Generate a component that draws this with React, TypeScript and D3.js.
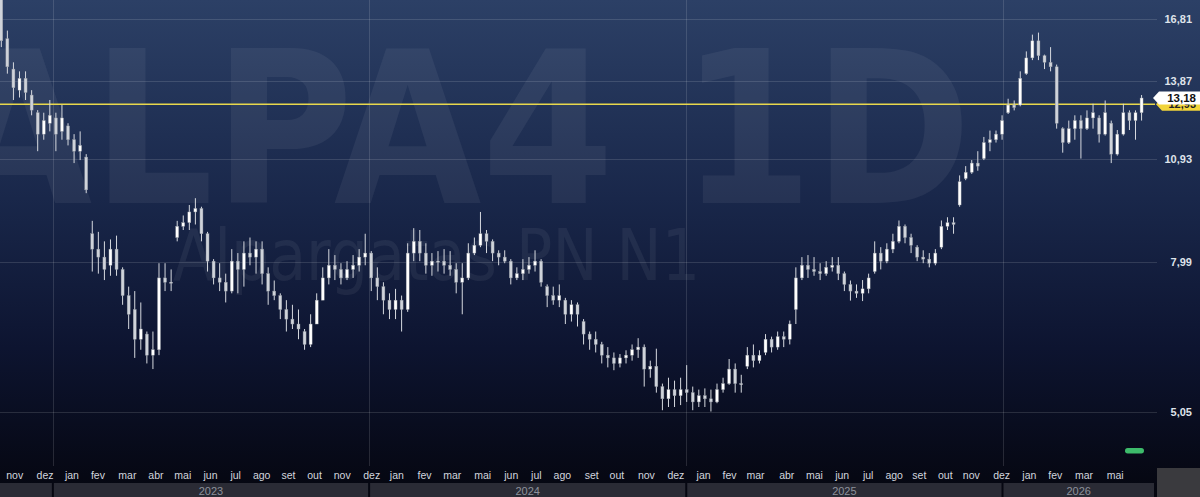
import React from "react";
import * as d3 from "d3";

const W = 1200;
const H = 497;

// weekly candles [open, high, low, close], one per week starting on Monday
const weekStart = "2022-10-31";
const ohlc2022 = [
  [17.9, 18.4, 15.4, 15.7], [15.8, 16.2, 14.2, 14.5], [14.4, 14.7, 13.1, 13.6],
  [13.5, 14.3, 13.2, 14.0], [14.0, 14.3, 13.1, 13.4], [13.3, 13.5, 12.5, 12.7],
  [12.6, 12.7, 11.2, 11.8], [11.8, 12.6, 11.6, 12.3], [12.2, 13.1, 11.9, 12.5],
];
const ohlc2023 = [
  [12.4, 12.6, 11.2, 11.8], [11.9, 12.9, 11.6, 12.4], [12.1, 12.2, 11.4, 11.6],
  [11.6, 11.8, 10.8, 11.2], [11.2, 11.9, 10.9, 11.4], [11.0, 11.1, 9.85, 9.95],
  [8.7, 9.05, 7.75, 8.3], [8.3, 8.75, 7.7, 8.1], [8.1, 8.5, 7.55, 7.8],
  [7.9, 8.55, 7.65, 8.3], [8.3, 8.65, 7.65, 7.8], [7.8, 7.85, 7.0, 7.2],
  [7.2, 7.4, 6.5, 6.8], [6.9, 7.3, 5.95, 6.3], [6.3, 7.05, 6.1, 6.5],
  [6.4, 6.45, 5.85, 6.0], [6.0, 6.45, 5.75, 6.1], [6.1, 7.95, 6.0, 7.6],
  [7.6, 7.95, 7.3, 7.5], [7.5, 7.8, 7.3, 7.5], [8.6, 9.05, 8.5, 8.9],
  [8.9, 9.2, 8.8, 9.0], [9.0, 9.5, 8.8, 9.3], [9.3, 9.7, 8.95, 9.4],
  [9.4, 9.45, 8.5, 8.7], [8.7, 8.75, 7.75, 8.0], [8.0, 8.05, 7.45, 7.6],
  [7.6, 7.95, 7.3, 7.5], [7.5, 7.7, 7.05, 7.3], [7.3, 8.3, 7.25, 8.0],
  [8.0, 8.2, 7.25, 7.8], [7.8, 8.5, 7.4, 8.2], [8.2, 8.6, 7.9, 8.1],
  [8.1, 8.5, 7.7, 8.3], [8.3, 8.5, 7.45, 7.7], [7.7, 7.85, 7.0, 7.3],
  [7.3, 7.54, 7.1, 7.2], [7.2, 7.25, 6.7, 6.9], [6.9, 7.1, 6.45, 6.7],
  [6.7, 7.0, 6.5, 6.6], [6.6, 6.9, 6.3, 6.5], [6.45, 6.5, 6.1, 6.2],
  [6.2, 6.8, 6.15, 6.6], [6.6, 7.25, 6.6, 7.1], [7.1, 7.85, 7.1, 7.6],
  [7.6, 8.3, 7.45, 7.9], [7.9, 8.15, 7.55, 7.8], [7.8, 7.95, 7.45, 7.6],
  [7.6, 8.0, 7.55, 7.8], [7.8, 8.15, 7.6, 7.9], [7.9, 8.3, 7.75, 8.1],
  [8.1, 8.7, 7.9, 8.2],
];
const ohlc2024 = [
  [8.2, 8.25, 7.3, 7.6], [7.6, 7.85, 7.1, 7.4], [7.4, 7.5, 6.8, 7.1],
  [7.1, 7.25, 6.7, 6.9], [6.9, 7.35, 6.7, 7.1], [7.1, 7.2, 6.45, 6.9],
  [6.9, 8.45, 6.85, 8.2], [8.2, 8.85, 8.0, 8.5], [8.5, 8.8, 8.0, 8.2],
  [8.2, 8.45, 7.7, 7.9], [7.9, 8.2, 7.65, 8.0], [8.0, 8.25, 7.75, 8.0],
  [8.0, 8.3, 7.7, 7.9], [7.9, 8.25, 7.65, 7.8], [7.8, 7.95, 7.25, 7.5],
  [7.5, 7.95, 6.8, 7.6], [7.6, 8.45, 7.55, 8.2], [8.2, 8.6, 8.15, 8.4],
  [8.4, 9.3, 8.35, 8.7], [8.7, 8.8, 8.2, 8.5], [8.5, 8.55, 8.0, 8.2],
  [8.2, 8.27, 7.9, 8.1], [8.1, 8.27, 7.95, 8.0], [8.0, 8.05, 7.45, 7.6],
  [7.6, 7.85, 7.55, 7.7], [7.7, 8.05, 7.55, 7.8], [7.8, 8.1, 7.7, 7.9],
  [7.9, 8.27, 7.75, 8.0], [8.0, 8.05, 7.4, 7.5], [7.4, 7.45, 6.95, 7.2],
  [7.2, 7.4, 7.0, 7.1], [7.1, 7.45, 6.95, 7.2], [7.1, 7.15, 6.6, 6.8],
  [6.8, 7.1, 6.65, 7.0], [7.0, 7.05, 6.55, 6.8], [6.65, 6.7, 6.2, 6.4],
  [6.4, 6.45, 6.1, 6.3], [6.3, 6.45, 6.05, 6.2], [6.2, 6.25, 5.85, 6.0],
  [6.0, 6.15, 5.78, 5.95], [5.95, 6.05, 5.73, 5.85], [5.85, 6.02, 5.78, 5.95],
  [5.95, 6.09, 5.85, 6.0], [6.0, 6.2, 5.9, 6.1], [6.1, 6.32, 5.95, 6.15],
  [6.15, 6.2, 5.45, 5.75], [5.75, 5.9, 5.6, 5.8], [5.8, 6.12, 5.35, 5.45],
  [5.45, 5.5, 5.07, 5.25], [5.25, 5.6, 5.12, 5.4], [5.4, 5.55, 5.12, 5.3],
  [5.3, 5.6, 5.15, 5.4], [5.4, 5.82, 5.2, 5.35],
];
const ohlc2025 = [
  [5.35, 5.45, 5.07, 5.2], [5.2, 5.4, 5.12, 5.3], [5.3, 5.42, 5.12, 5.25],
  [5.25, 5.4, 5.05, 5.2], [5.2, 5.5, 5.18, 5.4], [5.4, 5.6, 5.35, 5.5],
  [5.5, 5.93, 5.48, 5.75], [5.75, 5.85, 5.35, 5.5], [5.5, 5.65, 5.35, 5.5],
  [5.8, 6.15, 5.75, 6.0], [6.0, 6.2, 5.78, 5.9], [5.9, 6.09, 5.85, 6.0],
  [6.05, 6.4, 6.0, 6.3], [6.3, 6.35, 6.05, 6.15], [6.15, 6.45, 6.1, 6.35],
  [6.35, 6.45, 6.15, 6.3], [6.3, 6.67, 6.2, 6.6], [6.9, 7.85, 6.6, 7.6],
  [7.6, 8.1, 7.55, 7.9], [7.9, 8.15, 7.6, 7.8], [7.8, 8.1, 7.65, 7.75],
  [7.75, 7.95, 7.55, 7.7], [7.7, 8.0, 7.65, 7.85], [7.85, 8.1, 7.75, 7.9],
  [7.9, 8.1, 7.55, 7.7], [7.7, 7.75, 7.3, 7.45], [7.45, 7.54, 7.09, 7.3],
  [7.3, 7.45, 7.15, 7.25], [7.25, 7.55, 7.08, 7.35], [7.35, 7.7, 7.25, 7.6],
  [7.75, 8.5, 7.7, 8.2], [8.2, 8.35, 7.8, 8.0], [8.0, 8.45, 7.95, 8.3],
  [8.3, 8.7, 8.2, 8.5], [8.5, 9.06, 8.45, 8.9], [8.9, 8.95, 8.45, 8.6],
  [8.6, 8.7, 8.2, 8.4], [8.35, 8.4, 8.0, 8.1], [8.1, 8.27, 7.95, 8.05],
  [8.05, 8.2, 7.85, 7.95], [7.95, 8.3, 7.9, 8.2], [8.35, 9.06, 8.3, 8.9],
  [8.9, 9.15, 8.8, 9.0], [9.0, 9.15, 8.7, 8.95], [9.5, 10.4, 9.45, 10.2],
  [10.3, 10.7, 10.25, 10.5], [10.5, 10.9, 10.45, 10.8], [10.8, 11.2, 10.55, 10.7],
  [10.95, 11.7, 10.9, 11.5], [11.5, 11.93, 11.2, 11.6], [11.6, 11.93, 11.5, 11.8],
  [11.8, 12.5, 11.6, 12.3],
];
const ohlc2026 = [
  [12.6, 13.15, 12.55, 12.9], [12.9, 13.08, 12.69, 12.8], [12.9, 14.3, 12.85, 14.0],
  [14.2, 15.2, 14.15, 14.9], [14.9, 16.0, 14.8, 15.7], [15.7, 16.1, 14.8, 15.0],
  [15.0, 15.05, 14.4, 14.7], [14.7, 15.4, 14.3, 14.5], [14.5, 14.6, 12.0, 12.2],
  [12.0, 12.05, 11.15, 11.5], [11.5, 12.3, 11.45, 12.0], [12.0, 12.5, 11.6, 12.3],
  [12.3, 12.5, 10.95, 12.0], [12.0, 12.69, 11.95, 12.4], [12.4, 12.95, 12.0, 12.6],
  [12.4, 12.5, 11.5, 11.8], [11.8, 13.08, 11.75, 12.6], [12.2, 12.3, 10.8, 11.1],
  [11.1, 11.95, 11.05, 11.8], [11.8, 12.95, 11.75, 12.6], [12.6, 12.69, 11.95, 12.3],
  [12.3, 12.69, 11.6, 12.6], [12.6, 13.3, 12.3, 13.18],
];

const priceTicks = [16.81, 13.87, 10.93, 7.99, 5.05];
const monthLabels = [
  "nov", "dez", "jan", "fev", "mar", "abr", "mai", "jun", "jul", "ago", "set", "out", "nov", "dez",
  "jan", "fev", "mar", "mai", "jun", "jul", "ago", "set", "out", "nov", "dez",
  "jan", "fev", "mar", "abr", "mai", "jun", "jul", "ago", "set", "out", "nov", "dez",
  "jan", "fev", "mar", "mai",
];
const monthLabelDates = [
  "2022-11-18", "2022-12-23", "2023-01-23", "2023-02-22", "2023-03-28", "2023-04-30",
  "2023-05-31", "2023-07-02", "2023-07-31", "2023-08-30", "2023-09-30", "2023-10-30",
  "2023-12-01", "2024-01-04",
  "2024-02-02", "2024-03-05", "2024-04-06", "2024-05-11", "2024-06-13", "2024-07-12",
  "2024-08-11", "2024-09-14", "2024-10-13", "2024-11-16", "2024-12-20",
  "2025-01-21", "2025-02-20", "2025-03-22", "2025-04-27", "2025-05-29", "2025-06-30",
  "2025-07-30", "2025-08-29", "2025-09-27", "2025-10-27", "2025-11-26", "2025-12-31",
  "2026-02-01", "2026-03-03", "2026-04-05", "2026-05-11",
];
const yearLabels = ["2023", "2024", "2025", "2026"];
const lastClose = 13.18;
const referenceLevel = 12.93;
const ticker = "ALPA4 1D";
const companyName = "Alpargatas PN N1";
const domainStart = "2022-11-01";
const domainEnd = "2026-06-26";

const fmt = (v: number) => v.toFixed(2).replace(".", ",");
const toDate = (s: string) => new Date(s + "T00:00:00Z");

export default function App() {
  const plotRight = 1155;
  const plotBottom = 466;

  const x = d3.scaleUtc().domain([toDate(domainStart), toDate(domainEnd)]).range([0, plotRight]);
  const y = d3.scaleLog().domain([5.05, 16.81]).range([411.5, 18.5]);

  const all = [...ohlc2022, ...ohlc2023, ...ohlc2024, ...ohlc2025, ...ohlc2026];
  const start = toDate(weekStart).getTime();
  const candles = all.map((d, i) => ({
    date: new Date(start + (7 * i + 2.5) * 86400000),
    o: d[0], h: d[1], l: d[2], c: d[3],
  }));

  const yearStarts = yearLabels.map((yr) => toDate(`${yr}-01-01`));
  const bandEdges = [0, ...yearStarts.map((d) => x(d)), plotRight];

  const yLast = y(lastClose);
  const yRef = y(referenceLevel);
  const bodyW = 3;

  return (
    <div style={{ position: "absolute", left: 0, top: 0, width: W, height: H }}>
      <svg width={W} height={H} style={{ display: "block" }}>
        <defs>
          <linearGradient id="bg" x1="0" y1="0" x2="0" y2="1">
            <stop offset="0" stopColor="#2c4066" />
            <stop offset="0.4" stopColor="#19274a" />
            <stop offset="0.7" stopColor="#0d1430" />
            <stop offset="1" stopColor="#05060f" />
          </linearGradient>
          <clipPath id="plot">
            <rect x={0} y={0} width={plotRight} height={plotBottom} />
          </clipPath>
        </defs>
        <rect x={0} y={0} width={W} height={H} fill="url(#bg)" />

        {/* watermark */}
        <g fill="#ffffff" fillOpacity={0.06} clipPath="url(#plot)">
          <text
            x={458}
            y={203}
            textAnchor="middle"
            fontFamily="'DejaVu Sans Condensed', 'DejaVu Sans'"
            fontStretch="condensed"
            fontWeight="bold"
            fontSize={212}
          >
            {ticker}
          </text>
          <text
            x={173}
            y={280}
            textLength={527}
            lengthAdjust="spacingAndGlyphs"
            fontFamily="'DejaVu Sans'"
            fontSize={72}
          >
            {companyName}
          </text>
        </g>

        {/* grid */}
        <g stroke="#ffffff" strokeOpacity={0.13} strokeWidth={1}>
          {priceTicks.map((p) => (
            <line key={p} x1={0} x2={plotRight + 2} y1={Math.round(y(p)) + 0.5} y2={Math.round(y(p)) + 0.5} />
          ))}
          {yearStarts.map((d, i) => (
            <line key={i} x1={Math.round(x(d)) + 0.5} x2={Math.round(x(d)) + 0.5} y1={0} y2={plotBottom} />
          ))}
        </g>

        {/* reference level */}
        <line x1={0} x2={plotRight} y1={yRef} y2={yRef} stroke="#e8d84c" strokeWidth={1.6} />

        {/* candles */}
        <g clipPath="url(#plot)">
          {candles.map((d, i) => {
            const cx = x(d.date);
            const top = y(Math.max(d.o, d.c));
            const bot = y(Math.min(d.o, d.c));
            const up = d.c >= d.o;
            return (
              <g key={i}>
                <line x1={cx} x2={cx} y1={y(d.h)} y2={y(d.l)} stroke="#d6d9df" strokeWidth={1} />
                <rect
                  x={cx - bodyW / 2}
                  y={top}
                  width={bodyW}
                  height={Math.max(1, bot - top)}
                  fill={up ? "#ffffff" : "#cfd3da"}
                  stroke="#8c929c"
                  strokeWidth={0.4}
                />
              </g>
            );
          })}
        </g>

        {/* price axis labels */}
        <g fontFamily="'Liberation Sans', Arial, sans-serif" fontSize={11} fontWeight="bold" fill="#dfe3ea" textAnchor="end">
          {priceTicks.map((p) => (
            <text key={p} x={1192} y={y(p) + 4}>
              {fmt(p)}
            </text>
          ))}
        </g>

        {/* reference level label (yellow) */}
        <path
          d={`M${plotRight + 1},${yRef} L${plotRight + 7},${yRef - 6.5} L${W},${yRef - 6.5} L${W},${yRef + 6.5} L${plotRight + 7},${yRef + 6.5} Z`}
          fill="#f2d43a"
        />
        <text x={1196} y={yRef + 4} textAnchor="end" fontFamily="'Liberation Sans', Arial, sans-serif" fontSize={11} fontWeight="bold" fill="#222">
          {fmt(referenceLevel)}
        </text>
        {/* last price label (white) */}
        <path
          d={`M${plotRight - 2},${yLast} L${plotRight + 4},${yLast - 6.5} L${W},${yLast - 6.5} L${W},${yLast + 6.5} L${plotRight + 4},${yLast + 6.5} Z`}
          fill="#ffffff"
        />
        <text x={1196} y={yLast + 4} textAnchor="end" fontFamily="'Liberation Sans', Arial, sans-serif" fontSize={11.5} fontWeight="bold" fill="#111">
          {fmt(lastClose)}
        </text>

        {/* green marker */}
        <rect x={1125} y={448} width={19} height={5.5} rx={2.7} fill="#3dbb6b" />

        {/* month labels */}
        <g fontFamily="'Liberation Sans', Arial, sans-serif" fontSize={10.5} fill="#d2d6df" textAnchor="middle">
          {monthLabels.map((m, i) => (
            <text key={i} x={x(toDate(monthLabelDates[i]))} y={479}>
              {m}
            </text>
          ))}
        </g>

        {/* year band */}
        <g>
          {bandEdges.slice(0, -1).map((x0, i) => {
            const x1 = bandEdges[i + 1];
            return (
              <rect key={i} x={x0 + (i === 0 ? 0 : 1)} y={483} width={Math.max(0, x1 - x0 - (i === 0 ? 1 : 2))} height={14} fill="#2a2b35" />
            );
          })}
          {yearLabels.map((yr, i) => (
            <text
              key={yr}
              x={(bandEdges[i + 1] + bandEdges[i + 2]) / 2}
              y={494.5}
              textAnchor="middle"
              fontFamily="'Liberation Sans', Arial, sans-serif"
              fontSize={11}
              fill="#8d919b"
            >
              {yr}
            </text>
          ))}
        </g>
        <rect x={1157} y={468} width={W - 1157} height={H - 468} fill="#3a3a3e" />
      </svg>
    </div>
  );
}
